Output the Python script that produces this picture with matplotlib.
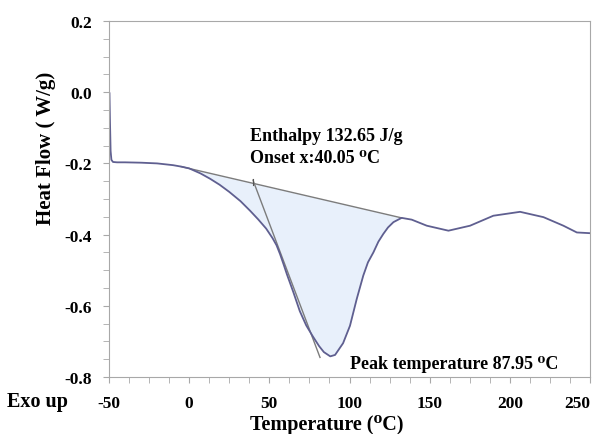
import numpy as np
import matplotlib.pyplot as plt
from matplotlib.ticker import MultipleLocator

plt.rcParams['font.family'] = ['Liberation Serif', 'DejaVu Serif']
plt.rcParams['font.weight'] = 'bold'
plt.rcParams['axes.unicode_minus'] = False

# DSC heat flow curve
temp = [-49.7, -49.4, -49.0, -48.5, -47.5, -45, -40, -30, -20, -10, -5, 0, 7, 13,
        19, 25, 32, 38, 43, 48, 52, 54.5, 56.7, 59, 61, 65, 69, 73, 77, 81, 84, 88,
        91, 96, 100.3, 104.5, 108.6, 111.5, 114.9, 118, 121.1, 124, 127.4, 132.5,
        138.8, 148.2, 161.7, 175.2, 189.7, 206.4, 221, 233.4, 241.8, 250]
heat_flow = [-0.003, -0.08, -0.165, -0.19, -0.196, -0.197, -0.197, -0.198, -0.200,
             -0.205, -0.209, -0.214, -0.228, -0.243, -0.260, -0.280, -0.306, -0.333,
             -0.357, -0.383, -0.410, -0.430, -0.455, -0.485, -0.512, -0.562, -0.615,
             -0.655, -0.685, -0.713, -0.730, -0.742, -0.738, -0.705, -0.656, -0.581,
             -0.515, -0.478, -0.450, -0.420, -0.398, -0.380, -0.365, -0.353, -0.358,
             -0.375, -0.389, -0.375, -0.347, -0.336, -0.351, -0.375, -0.394, -0.396]

# integration baseline and onset tangent
base_t = [-5, 132.5]
base_y = [-0.209, -0.353]
tang_t = [39.8, 81.6]
tang_y = [-0.247, -0.745]
onset = 40.05

x_ticks = [-50, 0, 50, 100, 150, 200, 250]

fig = plt.figure(figsize=(6.01, 4.35), dpi=100)
ax = fig.add_axes([109 / 601, 1 - 378 / 435, 481 / 601, 356 / 435])

t = np.array(temp)
h = np.array(heat_flow)
m = (t >= base_t[0]) & (t <= base_t[1])
ax.fill_between(t[m], np.interp(t[m], base_t, base_y), h[m], color='#e8f0fb', lw=0)
ax.plot(base_t, base_y, color='#7c7c7c', lw=1.0)
ax.plot(tang_t, tang_y, color='#7c7c7c', lw=1.0)
ax.plot([onset, onset], [-0.243, -0.262], color='#555555', lw=0.8)
ax.plot(temp, heat_flow, color='#5f5f90', lw=1.3)

ax.set_xlim(-50, 250)
ax.set_ylim(-0.8, 0.2)
ax.set_xticks(x_ticks)
ax.set_xticklabels([str(v) for v in x_ticks])
ax.xaxis.set_minor_locator(MultipleLocator(12.5))
ax.yaxis.set_major_locator(MultipleLocator(0.2))
ax.yaxis.set_minor_locator(MultipleLocator(0.05))
ax.yaxis.set_major_formatter(lambda v, p: f'{v:.1f}')

for s in ax.spines.values():
    s.set_color('#a8a8a8')
ax.tick_params(which='both', direction='out', length=4, color='#a8a8a8',
               labelsize=12.5)
ax.tick_params(axis='x', pad=9)
ax.tick_params(axis='y', pad=8)

# keep the last x label inside the figure edge
ax.get_xticklabels()[-1].set_horizontalalignment('right')
ax.get_xticklabels()[-1].set_x(250)

# axis titles placed in figure coordinates
fig.text(327 / 601, 1 - 425 / 435, 'Temperature (⁰C)', fontsize=14.5,
         fontweight='bold', ha='center', va='center')
fig.text(46 / 601, 1 - 148 / 435, 'Heat Flow ( W/g)', fontsize=15,
         fontweight='bold', ha='center', va='center', rotation=90)
fig.text(7 / 601, 1 - 402 / 435, 'Exo up', fontsize=14.5, fontweight='bold',
         va='center', ha='left')

ax.text(38, -0.135, 'Enthalpy 132.65 J/g', fontsize=13, fontweight='bold')
ax.text(38, -0.195, 'Onset x:40.05 ⁰C', fontsize=13, fontweight='bold')
ax.text(100, -0.775, 'Peak temperature 87.95 ⁰C', fontsize=13, fontweight='bold')

fig.savefig('out.png', dpi=100)
